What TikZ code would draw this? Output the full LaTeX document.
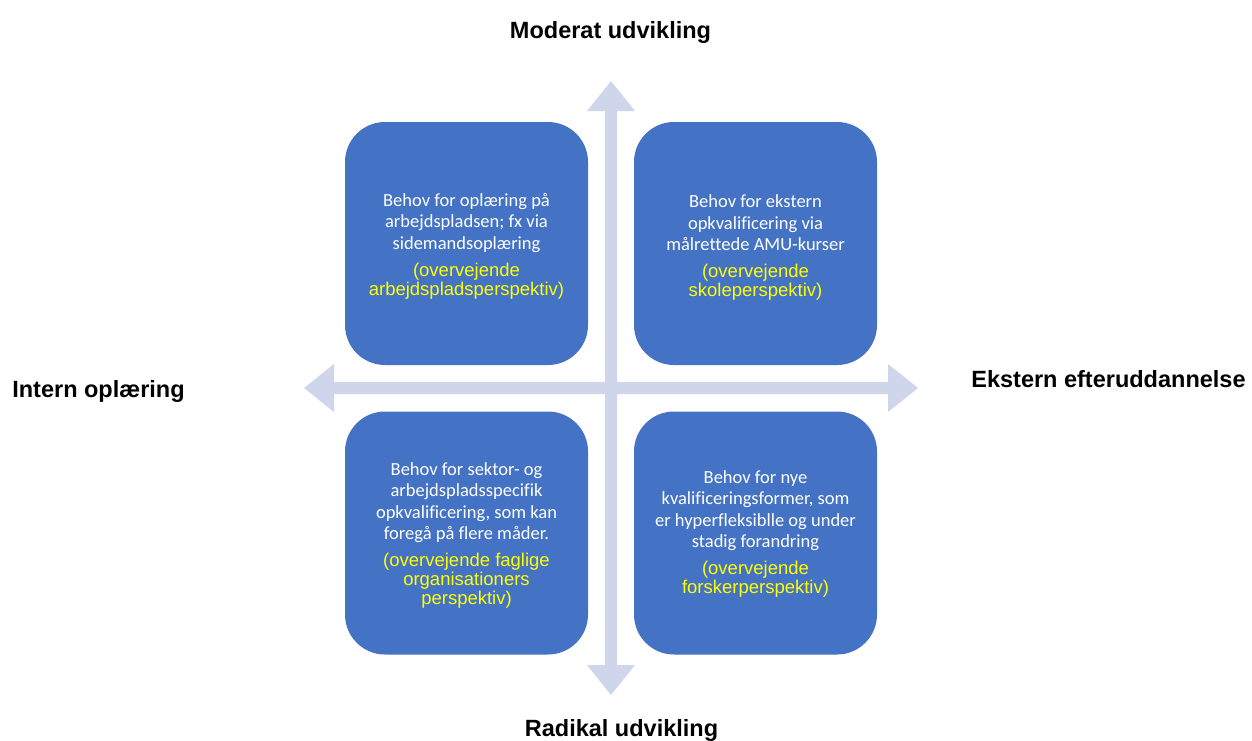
\documentclass[tikz,border=0pt]{standalone}
\usepackage{fontspec}
\setmainfont{Liberation Sans}
\newfontfamily\bodyfont[Ligatures=NoCommon]{Carlito}
\newfontfamily\arialfont{Liberation Sans}
\definecolor{boxblue}{HTML}{4472C4}
\definecolor{arrowc}{HTML}{CFD5EA}
\definecolor{yel}{HTML}{FFFF00}
\begin{document}
\begin{tikzpicture}[x=1pt,y=-1pt,
  quad/.style={fill=boxblue,draw=none,rounded corners=40pt,minimum width=243pt,minimum height=243pt,inner sep=0pt},
  wtext/.style={align=center,text=white,font=\bodyfont\fontsize{18.5}{21.5}\selectfont,inner sep=0pt},
  ytext/.style={align=center,text=yel,font=\arialfont\fontsize{18.5}{19}\selectfont,inner sep=0pt},
  axislabel/.style={font=\arialfont\bfseries\fontsize{23.5}{26}\selectfont,anchor=base,inner sep=0pt},
  axisarrow/.style={fill=arrowc,draw=none}]
\useasboundingbox (0,0) rectangle (1252,740);
% axes
\fill[axisarrow] (605,111) -- (587,111) -- (611,81) -- (635,111) -- (617,111) -- (617,665) -- (635,665) -- (611,695) -- (587,665) -- (605,665) -- cycle;
\fill[axisarrow] (334,382) -- (334,364) -- (304,388) -- (334,412) -- (334,394) -- (888,394) -- (888,412) -- (918,388) -- (888,364) -- (888,382) -- cycle;
% boxes
\node[quad] (tl) at (466.5,243.5) {};
\node[quad] (tr) at (755.5,243.5) {};
\node[quad] (bl) at (466.5,533) {};
\node[quad] (br) at (755.5,533) {};
% texts
\node[wtext] (tlw) at (466.5,223) {Behov for oplæring på\\arbejdspladsen; fx via\\sidemandsoplæring};
\node[ytext] (tly) at (466.5,281.5) {(overvejende\\arbejdspladsperspektiv)};
\node[wtext] (trw) at (755.5,223) {Behov for ekstern\\opkvalificering via\\målrettede AMU-kurser};
\node[ytext] (try) at (755.5,282.5) {(overvejende\\skoleperspektiv)};
\node[wtext] (blw) at (466.5,502.5) {Behov for sektor- og\\arbejdspladsspecifik\\opkvalificering, som kan\\foregå på flere måder.};
\node[ytext] (bly) at (466.5,581) {(overvejende faglige\\organisationers\\perspektiv)};
\node[wtext] (brw) at (755.5,510.5) {Behov for nye\\kvalificeringsformer, som\\er hyperfleksiblle og under\\stadig forandring};
\node[ytext] (bry) at (755.5,579) {(overvejende\\forskerperspektiv)};
% axis labels
\node[axislabel] (top) at (610.5,38) {Moderat udvikling};
\node[axislabel] (bottom) at (621.5,736) {Radikal udvikling};
\node[axislabel] (left) at (98.5,397) {Intern oplæring};
\node[axislabel] (right) at (1108.5,387) {Ekstern efteruddannelse};
\end{tikzpicture}
\end{document}
